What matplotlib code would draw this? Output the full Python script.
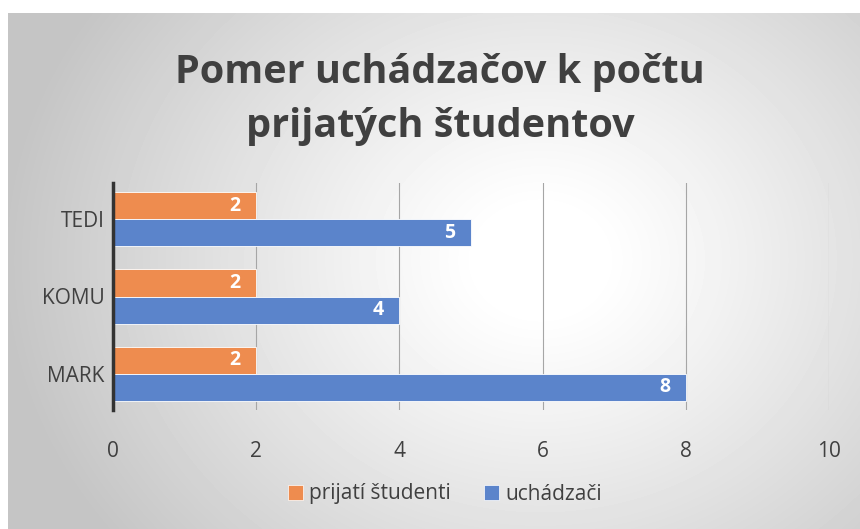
import numpy as np
import matplotlib
matplotlib.use("Agg")
import matplotlib.pyplot as plt
from matplotlib.patches import Patch

categories = ["MARK", "KOMU", "TEDI"]
prijati = [2, 2, 2]
uchadzaci = [8, 4, 5]
series_names = ["prijatí študenti", "uchádzači"]
xticks = [0, 2, 4, 6, 8, 10]
title = "Pomer uchádzačov k počtu\nprijatých študentov"

ORANGE = "#EE8C4F"
BLUE = "#5B84CB"
TXT = "#404040"
FONT = ["Open Sans", "DejaVu Sans"]
plt.rcParams["font.family"] = FONT

W, H = 860, 529
fig = plt.figure(figsize=(W / 100, H / 100), dpi=100)
fig.patch.set_facecolor("white")

# radial gradient background
bg = fig.add_axes([8 / W, 0, 1 - 8 / W, 1 - 13 / H])
bg.set_axis_off()
yy, xx = np.mgrid[13:H, 8:W]
cx, cy = 540, 260
r = np.sqrt(((xx - cx) / 1.0) ** 2 + ((yy - cy) / 0.85) ** 2)
r = np.clip((r - 60) / 480, 0, 1)
val = 1 - 0.23 * r ** 1.1
bg.imshow(val, cmap="gray", vmin=0, vmax=1, aspect="auto", interpolation="bilinear")
bg.set_zorder(0)

ax = fig.add_axes([113 / W, 1 - 410 / H, (829 - 113) / W, (410 - 183) / H])
ax.set_zorder(1)
ax.patch.set_alpha(0)
y = np.arange(len(categories))
h = 0.35
b1 = ax.barh(y + h / 2, prijati, height=h, color=ORANGE, edgecolor="white", linewidth=0.6, zorder=3)
b2 = ax.barh(y - h / 2, uchadzaci, height=h, color=BLUE, edgecolor="white", linewidth=0.6, zorder=3)
for bars, vals in ((b1, prijati), (b2, uchadzaci)):
    for bar, v in zip(bars, vals):
        ax.text(v - 0.22, bar.get_y() + bar.get_height() / 2, str(v), ha="right", va="center",
                color="white", fontsize=14, fontweight="bold", zorder=4)

ax.set_xlim(0, 10)
ax.set_ylim(-0.47, 2.47)
ax.set_xticks(xticks)
ax.set_xticklabels([str(t) for t in xticks])
ax.set_yticks(y)
ax.set_yticklabels(categories)
ax.tick_params(axis="both", length=0, labelsize=15, colors=TXT)
ax.tick_params(axis="x", pad=22)
ax.tick_params(axis="y", pad=6)
ax.grid(axis="x", color="#A6A6A6", linewidth=0.8, zorder=1)
for s in ("top", "right", "bottom"):
    ax.spines[s].set_visible(False)
ax.spines["left"].set_color("#333333")
ax.spines["left"].set_linewidth(2.5)
ax.spines["left"].set_zorder(5)

fig.text(440 / W, 1 - 100 / H, title, ha="center", va="center", fontsize=28.5,
         fontweight="bold", color=TXT, linespacing=1.5)

handles = [Patch(facecolor=ORANGE, edgecolor="white", linewidth=0.5),
           Patch(facecolor=BLUE, edgecolor="white", linewidth=0.5)]
fig.legend(handles, series_names, loc="center", bbox_to_anchor=(445 / W, 1 - 494 / H),
           ncol=2, frameon=False, fontsize=15, handlelength=0.7, handleheight=0.7,
           handletextpad=0.3, columnspacing=1.6, labelcolor=TXT)

fig.savefig("out.png", dpi=100, facecolor=fig.get_facecolor())
